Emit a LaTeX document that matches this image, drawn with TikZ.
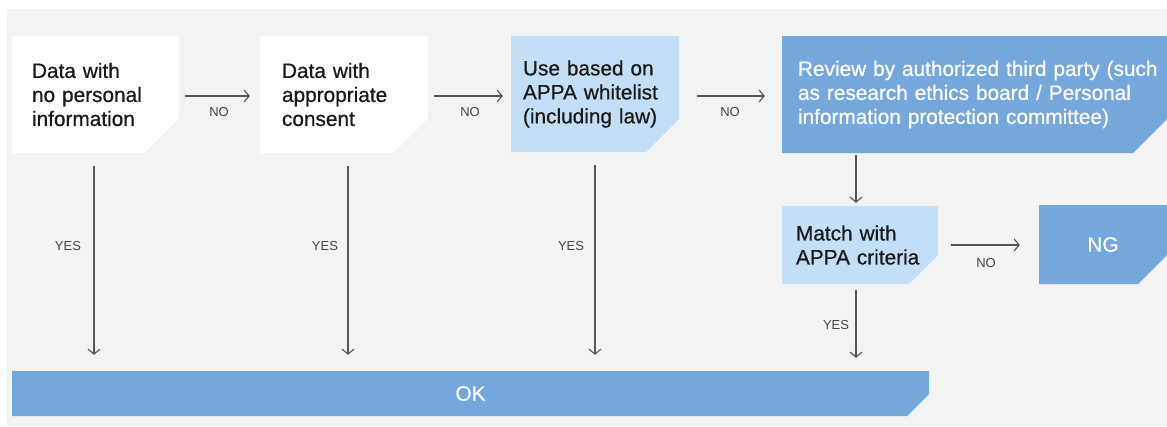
\documentclass[tikz,border=0pt]{standalone}
\usepackage{fontspec}
\setmainfont{Liberation Sans}
\newfontfamily\medfont[FakeBold=0.6]{Liberation Sans}
\usetikzlibrary{arrows.meta}
\definecolor{bgray}{HTML}{F3F3F3}
\definecolor{lblue}{HTML}{C4DEF6}
\definecolor{dblue}{HTML}{74A8DD}
\definecolor{txt}{HTML}{1A1A1A}
\definecolor{lncol}{HTML}{555555}
\definecolor{lblcol}{HTML}{444444}
\tikzset{
  cutbox/.style 2 args={path picture={\fill[#1] (path picture bounding box.north west) -- (path picture bounding box.north east) -- ([yshift=#2]path picture bounding box.south east) -- ([xshift=-#2]path picture bounding box.south east) -- (path picture bounding box.south west) -- cycle;}},
  box/.style={rectangle, draw=none, inner ysep=0pt, align=left, font=\medfont\fontsize{20.8}{24}\selectfont, text=txt},
  darkbox/.style={box, text=white},
  arr/.style={draw=lncol, line width=1.2pt, -{Straight Barb[length=5pt,width=12pt,line width=1.1pt]}},
  lbl/.style={font=\fontsize{13}{15}\selectfont, text=lblcol, inner sep=0pt}
}
\begin{document}
\begin{tikzpicture}[x=1pt,y=-1pt]
\useasboundingbox (0,0) rectangle (1167,426);
\fill[white] (0,0) rectangle (1167,426);
\fill[bgray] (7,9) rectangle (1167,426);
% boxes
\node[box, cutbox={white}{35pt}, minimum width=167pt, minimum height=117pt, inner xsep=20pt, text width=127pt] (b1) at (95.5,94.5) {Data with\\no personal\\information};
\node[box, cutbox={white}{35pt}, minimum width=168pt, minimum height=117pt, inner xsep=22pt, text width=124pt] (b2) at (344,94.5) {Data with\\appropriate\\consent};
\node[box, cutbox={lblue}{33pt}, minimum width=168pt, minimum height=116pt, inner xsep=12pt, text width=144pt] (b3) at (595,94) {Use based on\\APPA whitelist\\(including law)};
\node[darkbox, cutbox={dblue}{34pt}, minimum width=385pt, minimum height=117pt, inner xsep=16pt, text width=353pt] (b4) at (974.5,94.5) {\mbox{Review by authorized third party (such}\\\mbox{as research ethics board / Personal}\\\mbox{information protection committee)}};
\node[box, cutbox={lblue}{29pt}, minimum width=156pt, minimum height=78pt, inner xsep=14pt, text width=128pt] (m) at (860,245) {Match with\\APPA criteria};
\node[darkbox, cutbox={dblue}{29pt}, minimum width=128pt, minimum height=79pt, align=center] (ng) at (1103,244.5) {NG};
\node[darkbox, cutbox={dblue}{22pt}, minimum width=917pt, minimum height=45pt, align=center] (ok) at (470.5,393.5) {OK};
% horizontal arrows
\draw[arr, shorten <=6pt, shorten >=10pt] ([yshift=-1.5pt]b1.east) -- ([yshift=-1.5pt]b2.west);
\draw[arr, shorten <=6pt, shorten >=8pt] ([yshift=-1.5pt]b2.east) -- ([yshift=-2pt]b3.west);
\draw[arr, shorten <=18pt, shorten >=17pt] ([yshift=-2pt]b3.east) -- ([yshift=-1.5pt]b4.west);
\draw[arr, shorten <=13pt, shorten >=19pt] (m.east) -- ([yshift=-0.5pt]ng.west);
% vertical arrows
\draw[arr, shorten <=13pt, shorten >=16pt] ([xshift=-1.5pt]b1.south) -- ([xshift=-1.5pt]b1.south |- ok.north);
\draw[arr, shorten <=13pt, shorten >=16pt] ([xshift=4pt]b2.south) -- ([xshift=4pt]b2.south |- ok.north);
\draw[arr, shorten <=13pt, shorten >=16pt] (b3.south) -- (b3.south |- ok.north);
\draw[arr, shorten <=2pt, shorten >=3pt] ([xshift=-4pt]m.north |- b4.south) -- ([xshift=-4pt]m.north);
\draw[arr, shorten <=6pt, shorten >=13pt] ([xshift=-4pt]m.south) -- ([xshift=-4pt]m.south |- ok.north);
% labels
\node[lbl] (n1) at (219,112) {NO};
\node[lbl] (n2) at (470,112) {NO};
\node[lbl] (n3) at (730,112) {NO};
\node[lbl] (n4) at (986,263) {NO};
\node[lbl] (y1) at (68,246) {YES};
\node[lbl] (y2) at (325,246) {YES};
\node[lbl] (y3) at (571,246) {YES};
\node[lbl] (y4) at (836,325) {YES};
\end{tikzpicture}
\end{document}
